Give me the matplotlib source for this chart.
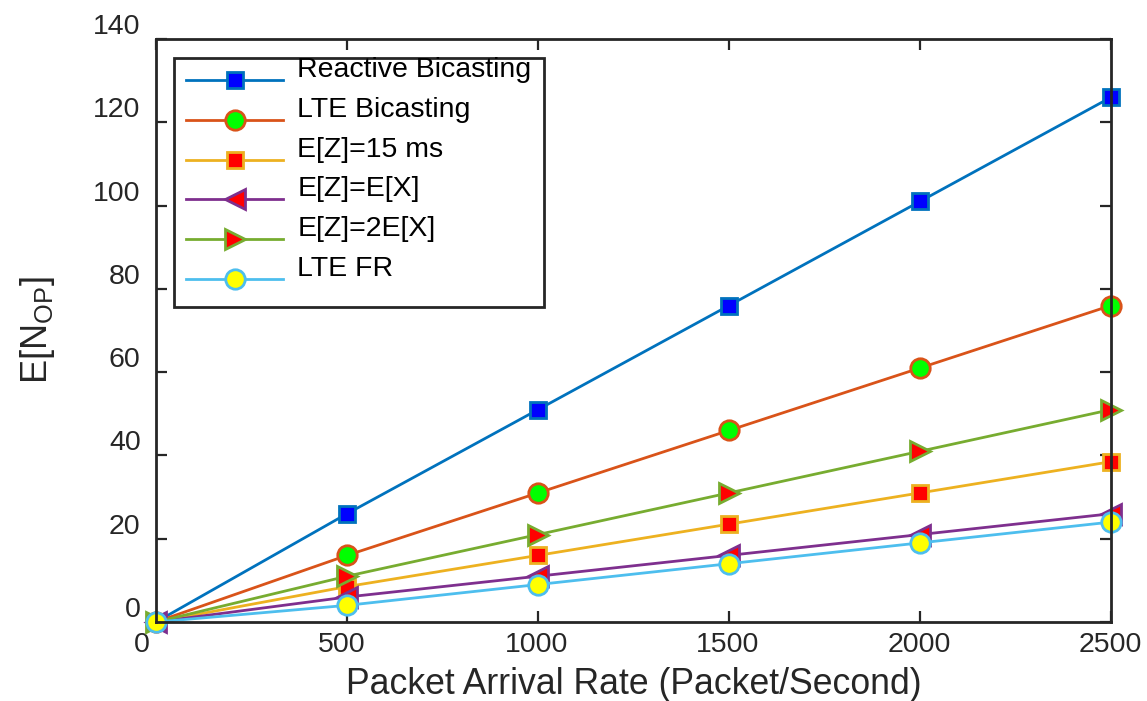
import matplotlib
matplotlib.use("Agg")
import matplotlib.pyplot as plt
import matplotlib.transforms as mtransforms

plt.rcParams['font.family'] = ['Liberation Sans', 'DejaVu Sans']
plt.rcParams['mathtext.fontset'] = 'custom'
plt.rcParams['mathtext.rm'] = 'Liberation Sans'

# Packet arrival rate (packets/second)
rate = [0, 500, 1000, 1500, 2000, 2500]

# Expected number of out-of-order packets E[N_OP]
reactive_bicasting = [0, 26, 51, 76, 101, 126]
lte_bicasting = [0, 16, 31, 46, 61, 76]
ez_15ms = [0, 8.5, 16, 23.5, 31, 38.5]
ez_ex = [0, 6, 11, 16, 21, 26]
ez_2ex = [0, 11, 21, 31, 41, 51]
lte_fr = [0, 4, 9, 14, 19, 24]

labels = ['Reactive Bicasting', 'LTE Bicasting', 'E[Z]=15 ms',
          'E[Z]=E[X]', 'E[Z]=2E[X]', 'LTE FR']

x_ticks = [0, 500, 1000, 1500, 2000, 2500]
y_ticks = [0, 20, 40, 60, 80, 100, 120, 140]

fig = plt.figure(figsize=(11.47, 7.01), dpi=100)
ax = fig.add_axes([156 / 1147, 1 - 622 / 701, 955 / 1147, 583 / 701])

styles = [
    dict(color='#0072BD', marker='s', mfc='#0000FF', mec='#0072BD', ms=12),
    dict(color='#D95319', marker='o', mfc='#00FF00', mec='#D95319', ms=14),
    dict(color='#EDB120', marker='s', mfc='#FF0000', mec='#EDB120', ms=12),
    dict(color='#7E2F8E', marker='<', mfc='#FF0000', mec='#7E2F8E', ms=15),
    dict(color='#77AC30', marker='>', mfc='#FF0000', mec='#77AC30', ms=15),
    dict(color='#4DBEEE', marker='o', mfc='#FFFF00', mec='#4DBEEE', ms=14),
]
series = [reactive_bicasting, lte_bicasting, ez_15ms, ez_ex, ez_2ex, lte_fr]

handles = []
for ys, lab, st in zip(series, labels, styles):
    h, = ax.plot(rate, ys, lw=2, mew=2, label=lab, clip_on=False, **st)
    handles.append(h)

ax.set_xlim(0, 2500)
ax.set_ylim(0, 140)
ax.set_xticks(x_ticks)
ax.set_yticks(y_ticks)
ax.set_xticklabels([str(v) for v in x_ticks])
ax.set_yticklabels([str(v) for v in y_ticks])

for s in ax.spines.values():
    s.set_linewidth(2)
    s.set_color('#262626')
ax.tick_params(direction='in', length=8, width=1.6, colors='#262626',
               top=True, right=True, labelsize=20.5, labelcolor='#262626')
ax.tick_params(axis='x', pad=7)
ax.tick_params(axis='y', pad=11)

# tick label nudges
x_shift = [-14, -5, -1, -1, -1, -1]
for lbl, dx in zip(ax.get_xticklabels(), x_shift):
    lbl.set_transform(lbl.get_transform() +
                      mtransforms.ScaledTranslation(dx / 100, 0, fig.dpi_scale_trans))
for lbl in ax.get_yticklabels():
    lbl.set_transform(lbl.get_transform() +
                      mtransforms.ScaledTranslation(0, 15 / 100, fig.dpi_scale_trans))

ax.set_xlabel('Packet Arrival Rate (Packet/Second)', fontsize=25.7,
              color='#262626', labelpad=7)
ax.set_ylabel(r'E[N$_{\mathregular{OP}}$]', fontsize=26, color='#262626',
              labelpad=26)

leg = ax.legend(handles=handles, loc='upper left',
                bbox_to_anchor=((174 - 156) / 955, (622 - 58) / 583),
                borderaxespad=0, fontsize=20.5, handlelength=3.4,
                handletextpad=0.5, labelspacing=0.48, borderpad=0.43,
                fancybox=False, framealpha=1, edgecolor='#262626')
leg.get_frame().set_linewidth(2)
for t in leg.get_texts():
    t.set_position((0, 13))

fig.savefig('out.png', dpi=100)
